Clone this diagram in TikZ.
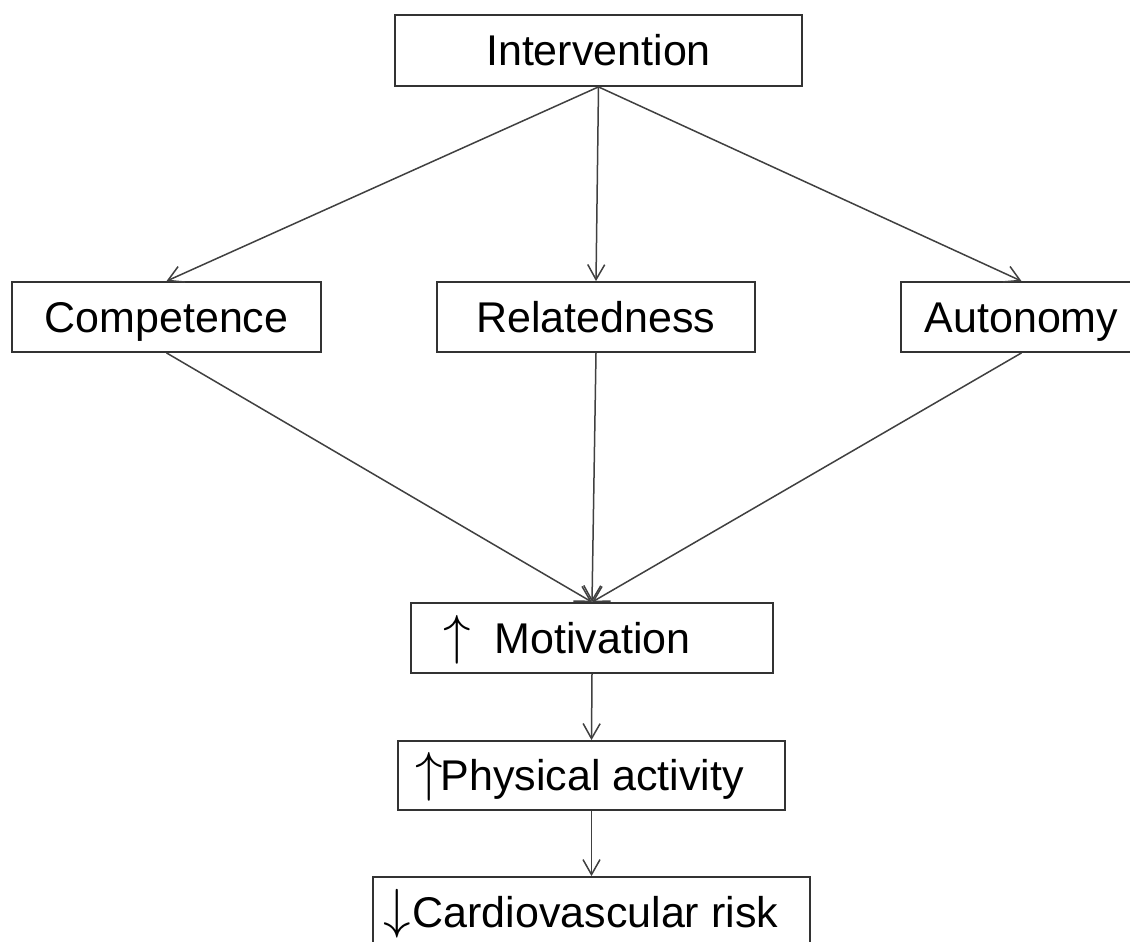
\documentclass[tikz,border=0pt]{standalone}
\usepackage{fontspec}
\setmainfont{Liberation Sans}
\usetikzlibrary{arrows.meta}
\newcommand{\bigup}{\scalebox{5.5}{\fontsize{10}{12}\selectfont$\uparrow$}}
\newcommand{\bigdown}{\scalebox{5.5}{\fontsize{10}{12}\selectfont$\downarrow$}}
\begin{document}
\begin{tikzpicture}[x=1pt,y=-1pt,
  box/.style={draw=black!80, line width=1.8pt, rectangle, inner sep=0pt,
    minimum height=70pt, font=\fontsize{43}{50}\selectfont, text=black,
    text height=30pt, text depth=0pt},
  link/.style={draw=black!75, line width=1.5pt, -{Straight Barb[length=15pt,width=17pt,line width=1.5pt]}}]
\clip (0,0) rectangle (1130,942);
\fill[white] (0,0) rectangle (1130,942);
\node[box, minimum width=407pt, minimum height=71pt] (int) at (598.5,50.5) {Intervention};
\node[box, minimum width=309pt] (comp) at (166.5,317) {Competence};
\node[box, minimum width=318pt] (rel) at (596,317) {Relatedness};
\node[box, minimum width=241pt] (aut) at (1021.5,317) {Autonomy};
\node[box, minimum width=362pt] (mot) at (592,638) {\makebox[362pt][l]{\hspace*{32pt}\bigup\hspace*{24pt}Motivation}};
\node[box, minimum width=387pt, minimum height=69pt] (pa) at (591.5,775.5) {\makebox[387pt][l]{\hspace*{17pt}\bigup\hspace*{-2pt}Physical activity}};
\node[box, minimum width=437pt] (cv) at (591.5,912) {\makebox[437pt][l]{\hspace*{10pt}\bigdown\hspace*{2pt}Cardiovascular risk}};
\draw[link] (int.south) -- (comp.north);
\draw[link] (int.south) -- (rel.north);
\draw[link] (int.south) -- (aut.north);
\draw[link] (comp.south) -- (mot.north);
\draw[link] (rel.south) -- (mot.north);
\draw[link] (aut.south) -- (mot.north);
\draw[link] (mot.south) -- (pa.north);
\draw[link] (pa.south) -- (cv.north);
\end{tikzpicture}
\end{document}
